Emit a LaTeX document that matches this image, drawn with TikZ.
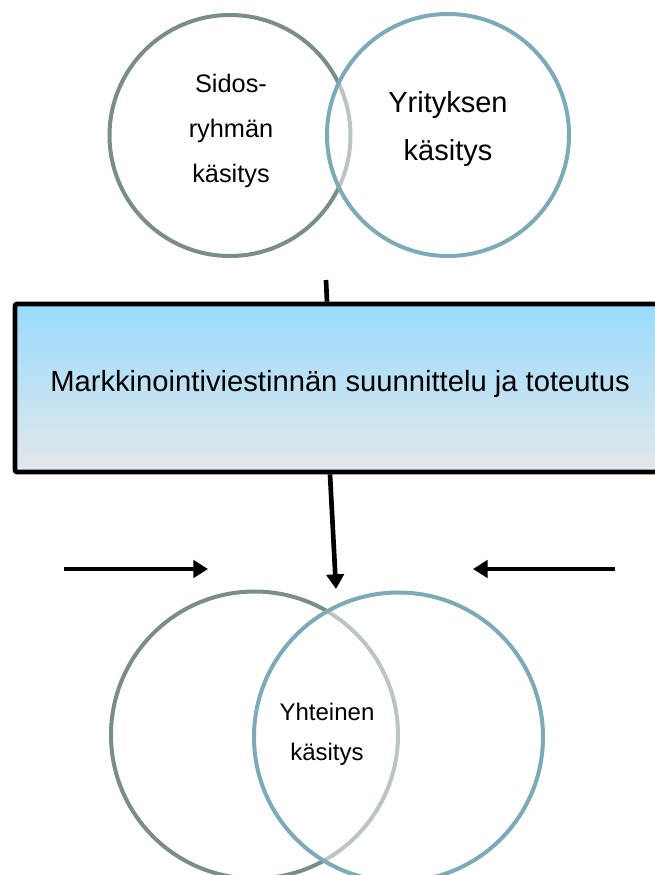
\documentclass[tikz,border=0pt]{standalone}
\usepackage{fontspec}
\setmainfont{Liberation Sans}
\usetikzlibrary{arrows.meta}
\definecolor{grayteal}{RGB}{122,140,140}
\definecolor{blueteal}{RGB}{124,170,182}
\definecolor{skytop}{RGB}{152,219,253}
\definecolor{skybot}{RGB}{228,232,234}
\begin{document}
\begin{tikzpicture}[x=0.75pt, y=-0.75pt,
  leftring/.style={circle, draw=grayteal, line width=3pt, inner sep=0pt},
  rightring/.style={circle, draw=blueteal, line width=3pt, inner sep=0pt, fill=white, fill opacity=0.5},
  planbox/.style={rectangle, draw, line width=3.5pt, rounded corners=1.5pt, top color=skytop, bottom color=skybot, minimum width=487.5pt, minimum height=126pt},
  conn/.style={line width=3.5pt},
  arr/.style={line width=3.5pt, -{Triangle[length=11pt, width=13pt]}}]

\useasboundingbox (0,0) rectangle (654,875);

\draw (230,135.5) node (sidring) [leftring, minimum size=180.75pt] {};
\draw (448,135) node (yriring) [rightring, minimum size=181.5pt] {};

\draw (231,131) node (sidtext) [align=center, font={\fontsize{19}{33.75}\selectfont}] {Sidos-\\ryhmän\\käsitys};
\draw (448,128.5) node (yritext) [align=center, font={\fontsize{21.75}{36}\selectfont}] {Yrityksen\\käsitys};

\draw (340,388) node (plan) [planbox, font={\fontsize{21.9}{26}\selectfont}, text height=15.75pt, text depth=11.25pt] {Markkinointiviestinnän suunnittelu ja toteutus};

\path (326,280) coordinate (hlinetop);
\draw [conn] (hlinetop) -- ([xshift=-9.75pt]plan.north);

\path (336,589) coordinate (meet);
\draw [arr] ([xshift=-7.5pt]plan.south) -- (meet);

\path (64,569) coordinate (lfrom);
\path (208,569) coordinate (lto);
\draw [arr] (lfrom) -- (lto);

\path (615,569) coordinate (rfrom);
\path (473,569) coordinate (rto);
\draw [arr] (rfrom) -- (rto);

\draw (254.5,735) node (sidring2) [leftring, minimum size=215.25pt] {};
\draw (398.5,737) node (yriring2) [rightring, minimum size=216.75pt] {};

\draw (327,734) node (shared) [align=center, font={\fontsize{18}{30}\selectfont}] {Yhteinen\\käsitys};

\end{tikzpicture}
\end{document}
